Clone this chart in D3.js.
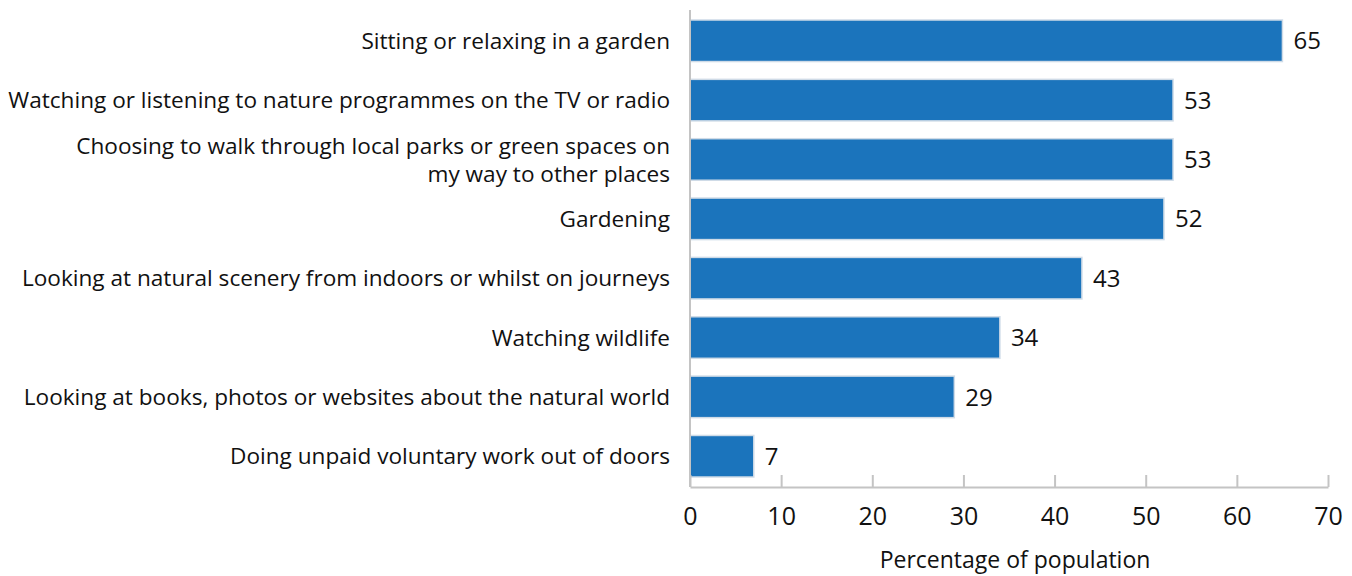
<!DOCTYPE html>
<html>
<head>
<meta charset="utf-8">
<script src="https://cdn.jsdelivr.net/npm/d3@7"></script>
<style>
  html, body { margin: 0; padding: 0; background: #fff; }
  svg { display: block; font-family: "Open Sans", sans-serif; }
</style>
</head>
<body>
<svg id="chart" width="1352" height="576"></svg>
<script>
// Activities and share of population taking part (%)
const activities = [
  ["Sitting or relaxing in a garden"],
  ["Watching or listening to nature programmes on the TV or radio"],
  ["Choosing to walk through local parks or green spaces on", "my way to other places"],
  ["Gardening"],
  ["Looking at natural scenery from indoors or whilst on journeys"],
  ["Watching wildlife"],
  ["Looking at books, photos or websites about the natural world"],
  ["Doing unpaid voluntary work out of doors"]
];
const percentages = [65, 53, 53, 52, 43, 34, 29, 7];
const xTicks = [0, 10, 20, 30, 40, 50, 60, 70];
const xTitle = "Percentage of population";

const svg = d3.select("#chart");
const margin = { left: 690, right: 24, top: 10, bottom: 89 };
const W = 1352, H = 576;
const plotBottom = H - margin.bottom; // 487

const x = d3.scaleLinear().domain([0, 70]).range([margin.left, 1328]);
const y = d3.scaleBand()
  .domain(d3.range(percentages.length))
  .range([margin.top + 0.5, plotBottom - 0.5])
  .paddingInner(0.3)
  .paddingOuter(0.16);

const textColor = "#111";
const catSize = 22.6;

// bars
svg.append("g").selectAll("rect")
  .data(percentages)
  .join("rect")
  .attr("x", x(0))
  .attr("y", (d, i) => y(i))
  .attr("width", d => x(d) - x(0))
  .attr("height", y.bandwidth())
  .attr("fill", "#1b74bc")
  .attr("stroke", "#cfdbe7")
  .attr("stroke-width", 1.5);

// value labels
svg.append("g").selectAll("text")
  .data(percentages)
  .join("text")
  .attr("x", d => x(d) + 11)
  .attr("y", (d, i) => y(i) + y.bandwidth() / 2)
  .attr("dy", "0.36em")
  .attr("font-size", 24)
  .attr("fill", textColor)
  .text(d => d);

// category labels
const cat = svg.append("g").selectAll("text")
  .data(activities)
  .join("text")
  .attr("x", 670)
  .attr("y", (d, i) => y(i) + y.bandwidth() / 2)
  .attr("text-anchor", "end")
  .attr("font-size", catSize)
  .attr("fill", textColor);
cat.each(function(lines) {
  const t = d3.select(this);
  const lh = 28;
  const off = -(lines.length - 1) * lh / 2;
  lines.forEach((l, k) => {
    t.append("tspan")
      .attr("x", 670)
      .attr("dy", k === 0 ? (off / catSize + 0.36) + "em" : lh + "px")
      .text(l);
  });
});

// x axis
const xAxis = d3.axisBottom(x).tickValues(xTicks).tickSize(-12).tickPadding(20).tickSizeOuter(0);
const gx = svg.append("g")
  .attr("transform", `translate(0,${plotBottom})`)
  .call(xAxis);
gx.select(".domain").attr("stroke", "#c4c4c4").attr("stroke-width", 2);
gx.selectAll(".tick line").attr("stroke", "#c4c4c4").attr("stroke-width", 2);
gx.selectAll(".tick text")
  .attr("font-size", 25)
  .attr("fill", textColor)
  .attr("font-family", "'Open Sans', sans-serif");

// y axis line
svg.append("line")
  .attr("x1", x(0)).attr("x2", x(0))
  .attr("y1", margin.top).attr("y2", plotBottom)
  .attr("stroke", "#c4c4c4").attr("stroke-width", 2);

// axis title
svg.append("text")
  .attr("x", 1015)
  .attr("y", 568)
  .attr("text-anchor", "middle")
  .attr("font-size", 23)
  .attr("fill", textColor)
  .text(xTitle);
</script>
</body>
</html>
